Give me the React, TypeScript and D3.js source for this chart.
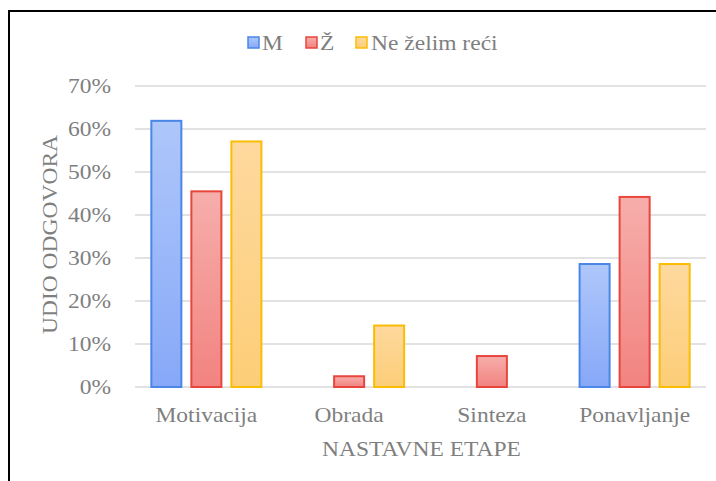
import React from 'react';
import * as d3 from 'd3';

const categories = ['Motivacija', 'Obrada', 'Sinteza', 'Ponavljanje'];
const seriesNames = ['M', 'Ž', 'Ne želim reći'];
const valuesM = [61.9, 0, 0, 28.6];
const valuesZ = [45.5, 2.5, 7.2, 44.2];
const valuesNe = [57.1, 14.3, 0, 28.6];
const yTicks = [0, 10, 20, 30, 40, 50, 60, 70];

const colors = [
  { stroke: '#4a86e8', top: '#aec7fa', bottom: '#87a8f8' },
  { stroke: '#e8453c', top: '#f6aeab', bottom: '#f28380' },
  { stroke: '#fbbc04', top: '#fed99e', bottom: '#fdce78' },
];

const W = 716;
const H = 481;
const left = 135;
const right = 706;
const top = 86;
const bottom = 387;
const font = '"Liberation Serif", "Times New Roman", serif';
const textColor = '#7f7f7f';
const fs = 21;
const sx = 1.12; // horizontal stretch of the text in the original

const Label = ({ x, y, anchor, children, size = fs }: any) => (
  <text
    transform={`translate(${x},${y}) scale(${sx},1)`}
    textAnchor={anchor}
    fontFamily={font}
    fontSize={size}
    fill={textColor}
  >
    {children}
  </text>
);

export default function App() {
  const series = [valuesM, valuesZ, valuesNe];

  const x0 = d3
    .scaleBand()
    .domain(categories)
    .range([left, right])
    .paddingInner(0.215)
    .paddingOuter(0.1075);

  const x1 = d3
    .scaleBand()
    .domain(seriesNames)
    .range([0, x0.bandwidth()])
    .paddingInner(0.2);

  const y = d3.scaleLinear().domain([0, 70]).range([bottom, top]);

  return (
    <svg
      width={W}
      height={H}
      style={{ position: 'absolute', left: 0, top: 0, background: '#fff' }}
    >
      <defs>
        {colors.map((c, i) => (
          <linearGradient key={i} id={`grad${i}`} x1="0" y1="0" x2="0" y2="1">
            <stop offset="0" stopColor={c.top} />
            <stop offset="1" stopColor={c.bottom} />
          </linearGradient>
        ))}
      </defs>

      {/* frame */}
      <line x1={9} y1={11} x2={W} y2={11} stroke="#000" strokeWidth={2} />
      <line x1={9} y1={10} x2={9} y2={H} stroke="#000" strokeWidth={2} />

      {/* grid + y ticks */}
      {yTicks.map((t) => (
        <g key={t}>
          <line
            x1={left}
            x2={right}
            y1={y(t)}
            y2={y(t)}
            stroke="#d9d9d9"
            strokeWidth={1.5}
          />
          <Label x={111} y={y(t) + 7} anchor="end">
            {t}%
          </Label>
        </g>
      ))}

      {/* bars */}
      {categories.map((cat, ci) => (
        <g key={cat} transform={`translate(${x0(cat)},0)`}>
          {series.map((vals, si) =>
            vals[ci] > 0 ? (
              <rect
                key={si}
                x={x1(seriesNames[si])! + 1}
                y={y(vals[ci])}
                width={x1.bandwidth() - 2}
                height={bottom - y(vals[ci])}
                fill={`url(#grad${si})`}
                stroke={colors[si].stroke}
                strokeWidth={2}
              />
            ) : null
          )}
        </g>
      ))}

      {/* category labels */}
      {categories.map((cat) => (
        <Label key={cat} x={x0(cat)! + x0.bandwidth() / 2} y={422} anchor="middle">
          {cat}
        </Label>
      ))}

      {/* axis titles */}
      <Label x={(left + right) / 2 + 1} y={456} anchor="middle">
        NASTAVNE ETAPE
      </Label>
      <g transform={`translate(57,${(top + bottom) / 2 - 2}) rotate(-90)`}>
        <text
          textAnchor="middle"
          fontFamily={font}
          fontSize={fs}
          fill={textColor}
          transform={`scale(${sx},1)`}
        >
          UDIO ODGOVORA
        </text>
      </g>

      {/* legend */}
      {[
        { x: 248, tx: 262 },
        { x: 306, tx: 320 },
        { x: 356, tx: 371 },
      ].map((p, i) => (
        <g key={i}>
          <rect
            x={p.x}
            y={37}
            width={11}
            height={11}
            fill={`url(#grad${i})`}
            stroke={colors[i].stroke}
            strokeWidth={1.5}
          />
          <Label x={p.tx} y={50} anchor="start">
            {seriesNames[i]}
          </Label>
        </g>
      ))}
    </svg>
  );
}
